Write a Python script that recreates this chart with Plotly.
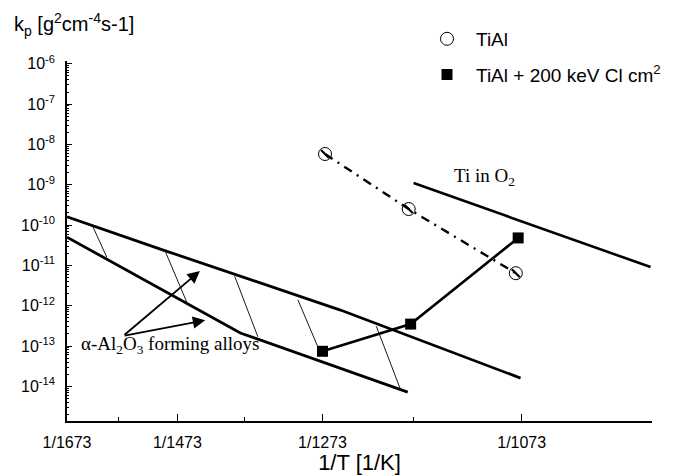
import plotly.graph_objects as go

# ---------------- data (temperatures in K, kp in g^2 cm^-4 s^-1) ----------------
T_tial = [1270, 1178, 1078]
kp_tial = [5.8e-9, 2.5e-10, 6.4e-12]

T_cl = [1273, 1176, 1076]
kp_cl = [7.4e-14, 3.5e-13, 4.8e-11]

T_ti_o2 = [1173, 974]
kp_ti_o2 = [1.1e-9, 9.1e-12]

T_al_upper = [1673, 1496, 1252, 1074]
kp_al_upper = [1.6e-10, 2.4e-11, 7.8e-13, 1.6e-14]

T_al_lower = [1673, 1379, 1179]
kp_al_lower = [5.0e-11, 2.1e-13, 7.2e-15]

# hatch segments: (T_start, T_end), (kp_start, kp_end)
hatch_T = [(1621, 1595), (1493, 1458), (1387, 1355), (1303, 1278), (1212, 1187)]
hatch_kp = [(8.9e-11, 1.6e-11), (2.3e-11, 1.2e-12), (5.4e-12, 1.7e-13),
            (1.4e-12, 8.9e-14), (3.1e-13, 9.1e-15)]

# arrows of the alpha-Al2O3 label: tail (T, log10 kp) -> heads
arrow_tail = (1565, -12.75)
arrow_heads = [(1438, -11.14), (1430, -12.36)]

# axis ticks
T_major = [1673, 1473, 1273, 1073]
T_minor = [1573, 1373, 1173, 973]
x_ticktext = ["1/1673", "1/1473", "1/1273", "1/1073"]
y_exponents = [-6, -7, -8, -9, -10, -11, -12, -13, -14]
y_ticktext = ["10<sup>%d</sup>" % e for e in y_exponents]

SANS = "Liberation Sans, Arial, sans-serif"
SERIF = "Liberation Serif, Times New Roman, serif"


def inv(ts):
    return [1.0 / t for t in ts]


fig = go.Figure()

# alpha-Al2O3 band boundaries
fig.add_trace(go.Scatter(x=inv(T_al_upper), y=kp_al_upper, mode="lines",
                         line=dict(color="black", width=2.8), showlegend=False))
fig.add_trace(go.Scatter(x=inv(T_al_lower), y=kp_al_lower, mode="lines",
                         line=dict(color="black", width=2.8), showlegend=False))
# hatching
for ts, ks in zip(hatch_T, hatch_kp):
    fig.add_trace(go.Scatter(x=inv(ts), y=list(ks), mode="lines",
                             line=dict(color="black", width=0.9), showlegend=False))

# Ti in O2
fig.add_trace(go.Scatter(x=inv(T_ti_o2), y=kp_ti_o2, mode="lines",
                         line=dict(color="black", width=2.6), showlegend=False))

# TiAl dash-dot line + open circles (with the slash inside each circle)
fig.add_trace(go.Scatter(x=inv(T_tial), y=kp_tial, mode="lines",
                         line=dict(color="black", width=2.4, dash="9px,6px,2px,6px"),
                         showlegend=False))
fig.add_trace(go.Scatter(x=inv(T_tial), y=kp_tial, mode="markers",
                         marker=dict(symbol="line-nw", size=8, color="black",
                                     line=dict(width=2.2, color="black")),
                         showlegend=False))
fig.add_trace(go.Scatter(x=inv(T_tial), y=kp_tial, mode="markers", name="TiAl",
                         marker=dict(symbol="circle-open", size=13,
                                     color="black", line=dict(width=1)),
                         legendgroup="a"))

# TiAl + Cl: line + filled squares
fig.add_trace(go.Scatter(x=inv(T_cl), y=kp_cl, mode="lines",
                         line=dict(color="black", width=2.6), showlegend=False))
fig.add_trace(go.Scatter(x=inv(T_cl), y=kp_cl, mode="markers",
                         name="TiAl + 200 keV Cl cm<sup>2</sup>",
                         marker=dict(symbol="square", size=11, color="black"),
                         legendgroup="b"))

annotations = []
for hT, hy in arrow_heads:
    annotations.append(dict(x=1.0 / hT, y=hy, xref="x", yref="y",
                            ax=1.0 / arrow_tail[0], ay=arrow_tail[1],
                            axref="x", ayref="y", text="", showarrow=True,
                            arrowhead=2, arrowsize=1.3, arrowwidth=1.9,
                            arrowcolor="black"))

annotations += [
    dict(text="α-Al<sub>2</sub>O<sub>3</sub> forming alloys", x=0.02, y=0.211,
         xref="paper", yref="paper", xanchor="left", yanchor="middle",
         showarrow=False, font=dict(family=SERIF, size=19, color="black")),
    dict(text="Ti in O<sub>2</sub>", x=0.7145, y=0.678, xref="paper", yref="paper",
         xanchor="center", yanchor="middle", showarrow=False,
         font=dict(family=SERIF, size=19, color="black")),
    dict(text="k<sub>p</sub> [g<sup>2</sup>cm<sup>-4</sup>s-1]", x=-0.094, y=1.1,
         xref="paper", yref="paper", xanchor="left", yanchor="middle",
         showarrow=False, font=dict(family=SANS, size=20, color="black")),
]

minor_y = [k * 10.0 ** e for e in range(-15, -5) for k in range(2, 10)]

# the page body adds an 8px offset, so the figure is sized to fill the window
fig.update_layout(
    width=666, height=467,
    margin=dict(l=59, r=22, t=53, b=54, autoexpand=False),
    paper_bgcolor="white", plot_bgcolor="white",
    font=dict(family=SANS, color="black"),
    annotations=annotations,
    legend=dict(x=0.6, y=1.114, xanchor="left", yanchor="top",
                font=dict(family=SANS, size=19, color="black"),
                bgcolor="rgba(0,0,0,0)", tracegroupgap=8, itemwidth=48,
                traceorder="grouped"),
    xaxis=dict(range=[1.0 / 1673, 1.0 / 973], tickmode="array",
               tickvals=inv(T_major), ticktext=x_ticktext,
               ticks="inside", ticklen=7, tickwidth=1.3, tickcolor="black",
               showline=True, linecolor="black", linewidth=1.6,
               showgrid=False, zeroline=False, ticklabelstandoff=6,
               tickfont=dict(family=SANS, size=16, color="black"),
               minor=dict(tickvals=inv(T_minor), ticks="inside", ticklen=4,
                          tickwidth=1.2, tickcolor="black", showgrid=False),
               title=dict(text="1/T [1/K]", standoff=8,
                          font=dict(family=SANS, size=22, color="black"))),
    yaxis=dict(type="log", range=[-14.86, -5.93], tickmode="array",
               tickvals=[10.0 ** e for e in y_exponents], ticktext=y_ticktext,
               ticks="inside", ticklen=5, tickwidth=1.3, tickcolor="black",
               showline=True, linecolor="black", linewidth=1.6,
               showgrid=False, zeroline=False, ticklabelstandoff=7,
               tickfont=dict(family=SANS, size=16, color="black"),
               minor=dict(tickvals=minor_y, ticks="inside", ticklen=2.5,
                          tickwidth=0.9, tickcolor="black", showgrid=False)),
)

fig.write_html("out.html")
